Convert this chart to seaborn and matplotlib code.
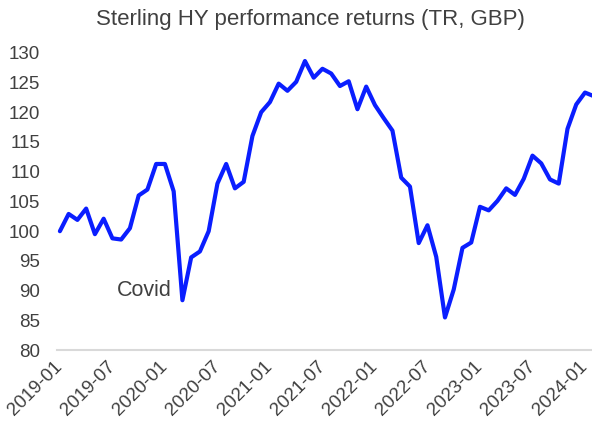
"""Sterling HY performance returns (TR, GBP), monthly index, 2019-01 = 100."""

import matplotlib
matplotlib.use("Agg")
import matplotlib.pyplot as plt
import numpy as np
import pandas as pd
import seaborn as sns

# ---------------------------------------------------------------------------
# Data
# ---------------------------------------------------------------------------

months = pd.date_range("2019-01", "2024-02", freq="MS").strftime("%Y-%m").tolist()

returns_2019 = [100.0, 102.9, 101.9, 103.8, 99.5, 102.1, 98.8, 98.6, 100.5, 106.0, 107.0, 111.3]
returns_2020 = [111.3, 106.7, 88.4, 95.6, 96.6, 100.0, 108.0, 111.3, 107.2, 108.3, 116.0, 120.0]
returns_2021 = [121.7, 124.8, 123.6, 125.1, 128.6, 125.8, 127.3, 126.5, 124.4, 125.2, 120.5, 124.3]
returns_2022 = [121.2, 119.0, 116.9, 109.0, 107.5, 98.0, 101.0, 95.7, 85.5, 90.2, 97.2, 98.1]
returns_2023 = [104.1, 103.5, 105.1, 107.2, 106.1, 108.8, 112.7, 111.4, 108.7, 108.0, 117.2, 121.3]
returns_2024 = [123.3, 122.7]

tick_labels = ["2019-01", "2019-07", "2020-01", "2020-07", "2021-01", "2021-07",
               "2022-01", "2022-07", "2023-01", "2023-07", "2024-01"]
y_ticks = [80, 85, 90, 95, 100, 105, 110, 115, 120, 125, 130]

annotation_month = "2020-03"
annotation_text = "Covid"

TEXT_COLOR = "#404040"
LINE_COLOR = "#0A1EFF"

# ---------------------------------------------------------------------------
# Figure
# ---------------------------------------------------------------------------

values = (returns_2019 + returns_2020 + returns_2021
          + returns_2022 + returns_2023 + returns_2024)
df = pd.DataFrame({"month": months, "value": values})
df["idx"] = np.arange(len(df))

sns.set_theme(style="white")
plt.rcParams["font.family"] = ["Liberation Sans", "DejaVu Sans"]

fig = plt.figure(figsize=(5.92, 4.25), dpi=100)
ax = fig.add_axes([0.096, 0.176, 0.904, 0.735])

sns.lineplot(data=df, x="idx", y="value", color=LINE_COLOR, linewidth=3.0, ax=ax)

ax.set_xlim(-0.35, 60.8)
ax.set_ylim(80, 132.5)

tick_pos = [months.index(m) for m in tick_labels]
ax.set_xticks(tick_pos)
ax.set_xticklabels(tick_labels, rotation=45, ha="right", va="center",
                   rotation_mode="anchor", fontsize=13.5, color=TEXT_COLOR)
ax.set_yticks(y_ticks)
ax.set_yticklabels([str(v) for v in y_ticks], fontsize=13.5, color=TEXT_COLOR)
ax.tick_params(axis="y", length=0, pad=12)
ax.tick_params(axis="x", length=0, pad=10)
ax.set_xlabel("")
ax.set_ylabel("")

for side in ["top", "right", "left"]:
    ax.spines[side].set_visible(False)
ax.spines["bottom"].set_color("#d9d9d9")
ax.spines["bottom"].set_linewidth(1.5)

i_covid = months.index(annotation_month)
ax.text(i_covid - 1.2, 90, annotation_text, ha="right", va="center",
        fontsize=15.5, color=TEXT_COLOR)

fig.text(0.525, 0.953, "Sterling HY performance returns (TR, GBP)",
         ha="center", va="center", fontsize=16, color=TEXT_COLOR)

fig.savefig("out.png", dpi=100)
plt.close(fig)
